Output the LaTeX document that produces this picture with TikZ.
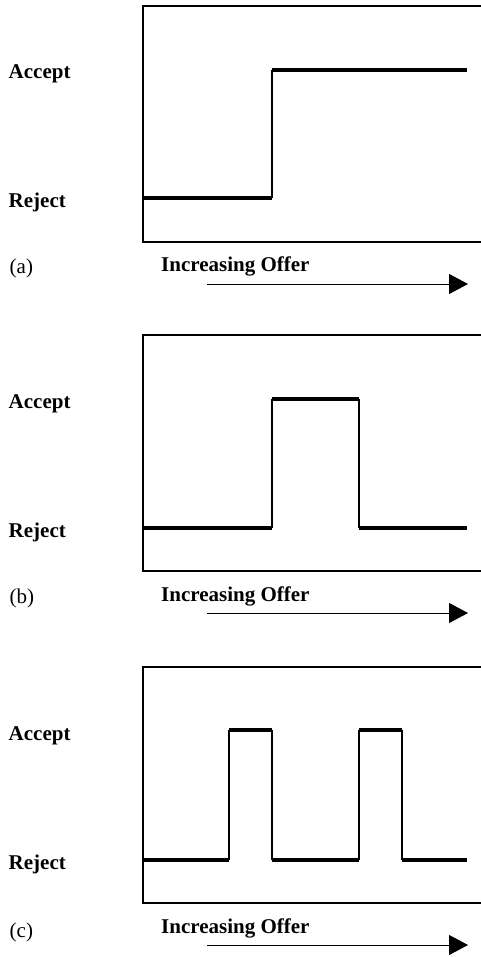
\documentclass[tikz,border=0pt]{standalone}
\usepackage{fontspec}
\setmainfont{Liberation Serif}
\usetikzlibrary{arrows.meta}
\begin{document}
\begin{tikzpicture}[x=1pt,y=-1pt,
  frame/.style={line width=1.3pt},
  signal/.style={line width=3.6pt,line cap=butt},
  riser/.style={line width=1.3pt},
  lbl/.style={anchor=base west,inner sep=0pt,font=\fontsize{21}{25}\selectfont\bfseries},
  tag/.style={anchor=base west,inner sep=0pt,font=\fontsize{21}{25}\selectfont},
  offer/.style={line width=1pt,-{Triangle[length=19pt,width=20pt]}}]
\useasboundingbox[fill=white] (0,0) rectangle (481,957);
% ---------- panel (a) ----------
\begin{scope}[yshift=0pt]
  \draw[frame] (490,6) -- (143,6) -- (143,242) -- (490,242);
  \node[lbl] (accA) at (8.5,79) {Accept};
  \node[lbl] (rejA) at (8.5,208) {Reject};
  \node[tag] (tagA) at (9.5,273) {(a)};
  \node[lbl] (offA) at (161,272) {Increasing Offer};
  \coordinate (a1) at (143,198);
  \coordinate (a2) at (272,198);
  \coordinate (a3) at (272,70);
  \coordinate (a4) at (467,70);
  \draw[signal] (a1) -- (a2);
  \draw[riser] (a2) -- (a3);
  \draw[signal] (a3) -- (a4);
  \coordinate (sA) at (207,284);
  \coordinate (eA) at (468,284);
  \draw[offer] (sA) -- (eA);
\end{scope}
% ---------- panel (b) ----------
\begin{scope}[yshift=-329pt]
  \draw[frame] (490,6) -- (143,6) -- (143,242) -- (490,242);
  \node[lbl] (accB) at (8.5,79) {Accept};
  \node[lbl] (rejB) at (8.5,208) {Reject};
  \node[tag] (tagB) at (9.5,274) {(b)};
  \node[lbl] (offB) at (161,272) {Increasing Offer};
  \coordinate (b1) at (143,199);
  \coordinate (b2) at (272,199);
  \coordinate (b3) at (272,70);
  \coordinate (b4) at (359,70);
  \coordinate (b5) at (359,199);
  \coordinate (b6) at (467,199);
  \draw[signal] (b1) -- (b2);
  \draw[riser] (b2) -- (b3);
  \draw[signal] (b3) -- (b4);
  \draw[riser] (b4) -- (b5);
  \draw[signal] (b5) -- (b6);
  \coordinate (sB) at (207,284);
  \coordinate (eB) at (468,284);
  \draw[offer] (sB) -- (eB);
\end{scope}
% ---------- panel (c) ----------
\begin{scope}[yshift=-661pt]
  \draw[frame] (490,6) -- (143,6) -- (143,242) -- (490,242);
  \node[lbl] (accC) at (8.5,79) {Accept};
  \node[lbl] (rejC) at (8.5,208) {Reject};
  \node[tag] (tagC) at (9.5,276) {(c)};
  \node[lbl] (offC) at (161,272) {Increasing Offer};
  \coordinate (c1) at (143,199);
  \coordinate (c2) at (229,199);
  \coordinate (c3) at (229,69);
  \coordinate (c4) at (272,69);
  \coordinate (c5) at (272,199);
  \coordinate (c6) at (359,199);
  \coordinate (c7) at (359,69);
  \coordinate (c8) at (402,69);
  \coordinate (c9) at (402,199);
  \coordinate (c10) at (467,199);
  \draw[signal] (c1) -- (c2);
  \draw[riser] (c2) -- (c3);
  \draw[signal] (c3) -- (c4);
  \draw[riser] (c4) -- (c5);
  \draw[signal] (c5) -- (c6);
  \draw[riser] (c6) -- (c7);
  \draw[signal] (c7) -- (c8);
  \draw[riser] (c8) -- (c9);
  \draw[signal] (c9) -- (c10);
  \coordinate (sC) at (207,284);
  \coordinate (eC) at (468,284);
  \draw[offer] (sC) -- (eC);
\end{scope}
\end{tikzpicture}
\end{document}
